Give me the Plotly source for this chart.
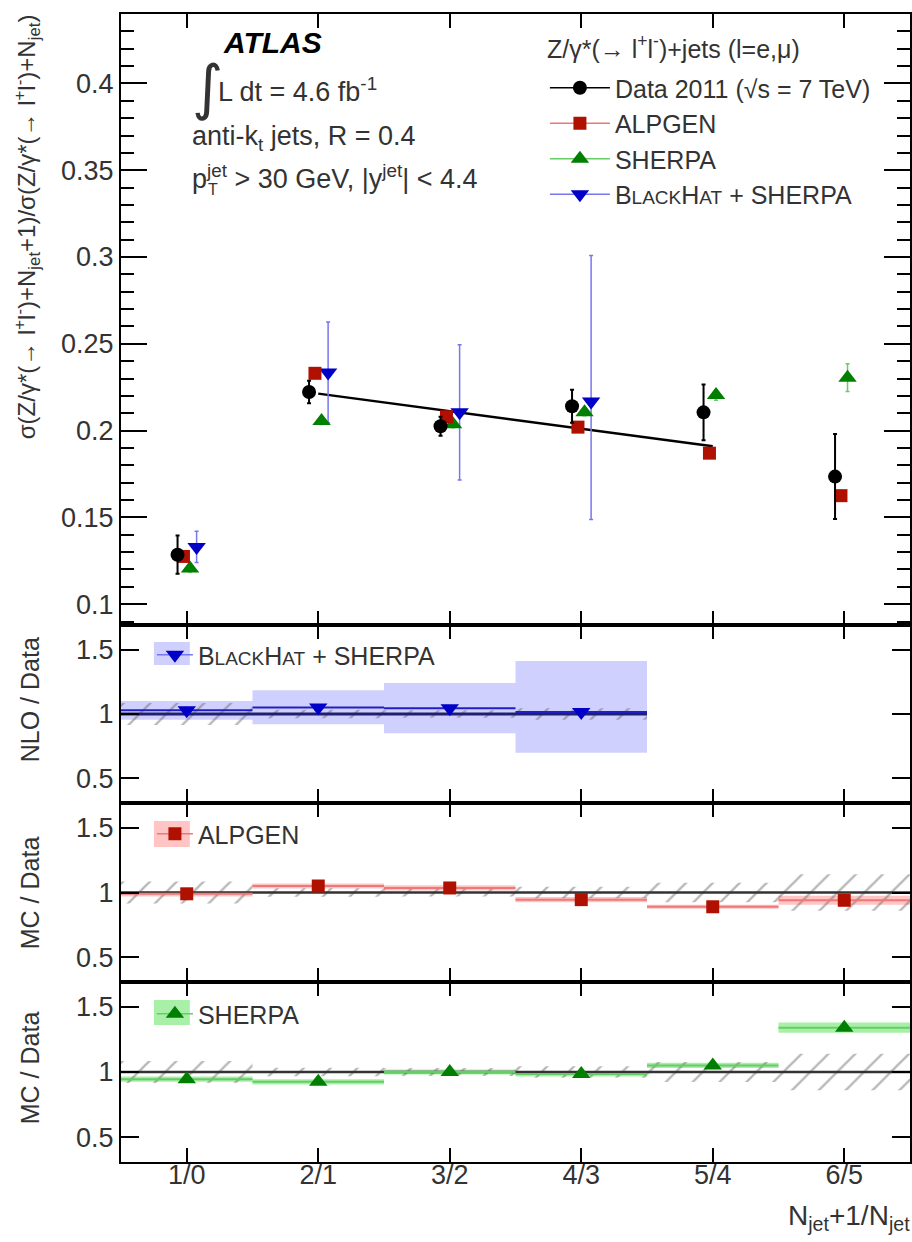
import plotly.graph_objects as go

# ---------------- data ----------------
categories = ["1/0", "2/1", "3/2", "4/3", "5/4", "6/5"]

data_vals = [0.1285, 0.2222, 0.2025, 0.2140, 0.2105, 0.1735]
data_err = [0.011, 0.0065, 0.0055, 0.0095, 0.016, 0.0245]

alpgen_vals = [0.1275, 0.2330, 0.2080, 0.2020, 0.1870, 0.1625]
alpgen_err = [0.002, 0.002, 0.002, 0.002, 0.002, 0.003]

sherpa_vals = [0.1205, 0.2055, 0.2037, 0.2105, 0.2205, 0.2305]
sherpa_err = [0.002, 0.002, 0.002, 0.002, 0.003, 0.008]

bh_vals = [0.1330, 0.2335, 0.2105, 0.2168]
bh_err_up = [0.009, 0.029, 0.039, 0.084]
bh_err_dn = [0.009, 0.029, 0.039, 0.068]

fit_idx = [1, 4]
fit_vals = [0.2213, 0.1910]

# ratio panels
data_rel_err = [0.085, 0.032, 0.030, 0.045, 0.076, 0.140]

bh_ratio = [1.03, 1.05, 1.045, 1.015]
bh_ratio_lo = [0.955, 0.92, 0.85, 0.70]
bh_ratio_hi = [1.10, 1.185, 1.24, 1.41]

alp_ratio = [0.99, 1.05, 1.035, 0.945, 0.89, 0.94]
alp_band = [0.02, 0.02, 0.02, 0.02, 0.015, 0.035]

sherpa_ratio = [0.945, 0.925, 1.0, 0.985, 1.05, 1.34]
sherpa_band = [0.02, 0.02, 0.02, 0.02, 0.02, 0.04]

# ---------------- styles ----------------
FONT = "Liberation Sans, Arial, sans-serif"
FS = 27
C_DATA = "black"
C_ALP = "#b01000"
C_ALP_L = "#ee7777"
C_ALP_F = "rgba(255,150,150,0.55)"
C_SHE = "#007f00"
C_SHE_L = "#66cc66"
C_SHE_F = "rgba(110,230,110,0.6)"
C_BH = "#0000c8"
C_BH_L = "#7777ee"
C_BH_F = "rgba(170,170,255,0.55)"
HATCH = dict(shape="/", fgcolor="#666666", bgcolor="rgba(0,0,0,0)", size=19, solidity=0.12)

off = {"data": -0.07, "alp": -0.025, "she": 0.025, "bh": 0.075}
idx = list(range(len(categories)))

fig = go.Figure()


def shift(n, d):
    return [i + d for i in range(n)]


def rects(lo, hi):
    xs, ys = [], []
    for i, (a, b) in enumerate(zip(lo, hi)):
        xs += [i - 0.5, i + 0.5, i + 0.5, i - 0.5, i - 0.5, None]
        ys += [a, a, b, b, a, None]
    return xs, ys


def steps(vals):
    xs, ys = [], []
    for i, v in enumerate(vals):
        xs += [i - 0.5, i + 0.5, None]
        ys += [v, v, None]
    return xs, ys


# ---------------- main panel ----------------
fig.add_trace(go.Scatter(x=fit_idx, y=fit_vals, mode="lines",
                         line=dict(color="black", width=2.5), showlegend=False,
                         xaxis="x", yaxis="y"))
fig.add_trace(go.Scatter(x=shift(len(bh_vals), off["bh"]), y=bh_vals, mode="markers",
                         marker=dict(symbol="triangle-down", size=16, color=C_BH),
                         error_y=dict(type="data", array=bh_err_up, arrayminus=bh_err_dn,
                                      color=C_BH_L, thickness=1.5, width=2),
                         showlegend=False, xaxis="x", yaxis="y"))
fig.add_trace(go.Scatter(x=shift(6, off["she"]), y=sherpa_vals, mode="markers",
                         marker=dict(symbol="triangle-up", size=16, color=C_SHE),
                         error_y=dict(type="data", array=sherpa_err, color=C_SHE_L,
                                      thickness=1.5, width=2),
                         showlegend=False, xaxis="x", yaxis="y"))
fig.add_trace(go.Scatter(x=shift(6, off["alp"]), y=alpgen_vals, mode="markers",
                         marker=dict(symbol="square", size=13, color=C_ALP),
                         error_y=dict(type="data", array=alpgen_err, color=C_ALP_L,
                                      thickness=1.5, width=2),
                         showlegend=False, xaxis="x", yaxis="y"))
fig.add_trace(go.Scatter(x=shift(6, off["data"]), y=data_vals, mode="markers",
                         marker=dict(symbol="circle", size=14, color=C_DATA),
                         error_y=dict(type="data", array=data_err, color=C_DATA,
                                      thickness=2, width=2),
                         showlegend=False, xaxis="x", yaxis="y"))

# legend-only entries (main)
def smallcaps_bh(sz):
    return ("B<span style='font-size:%dpx'>LACK</span>H"
            "<span style='font-size:%dpx'>AT</span> + SHERPA" % (sz, sz))


for name, sym, col, lcol, sz in [
    ("Data 2011 (√s = 7 TeV)", "circle", C_DATA, C_DATA, 14),
    ("ALPGEN", "square", C_ALP, C_ALP_L, 13),
    ("SHERPA", "triangle-up", C_SHE, C_SHE_L, 16),
    (smallcaps_bh(19), "triangle-down", C_BH, C_BH_L, 16),
]:
    fig.add_trace(go.Scatter(x=[None], y=[None], mode="lines+markers", name=name,
                             marker=dict(symbol=sym, size=sz, color=col),
                             line=dict(color=lcol, width=1.5),
                             legend="legend", xaxis="x", yaxis="y"))

# ---------------- ratio panel 1 (NLO) ----------------
nbh = len(bh_ratio)
bx, by = rects(bh_ratio_lo, bh_ratio_hi)
fig.add_trace(go.Scatter(x=bx, y=by, fill="toself", mode="lines", line=dict(width=0),
                         fillcolor=C_BH_F, showlegend=False, xaxis="x2", yaxis="y2"))
hx, hy = rects([1 - e for e in data_rel_err[:nbh]], [1 + e for e in data_rel_err[:nbh]])
fig.add_trace(go.Scatter(x=hx, y=hy, fill="toself", mode="lines", line=dict(width=0),
                         fillcolor="rgba(0,0,0,0)", fillpattern=HATCH,
                         showlegend=False, xaxis="x2", yaxis="y2"))
fig.add_trace(go.Scatter(x=[-0.5, nbh - 0.5], y=[1, 1], mode="lines",
                         line=dict(color="#202070", width=3), showlegend=False,
                         xaxis="x2", yaxis="y2"))
sx, sy = steps(bh_ratio)
fig.add_trace(go.Scatter(x=sx, y=sy, mode="lines", line=dict(color="#2020c0", width=2),
                         showlegend=False, xaxis="x2", yaxis="y2"))
fig.add_trace(go.Scatter(x=idx[:nbh], y=bh_ratio, mode="markers",
                         marker=dict(symbol="triangle-down", size=16, color=C_BH),
                         showlegend=False, xaxis="x2", yaxis="y2"))
fig.add_trace(go.Scatter(x=[None], y=[None], mode="lines+markers", name=smallcaps_bh(19),
                         marker=dict(symbol="triangle-down", size=16, color=C_BH),
                         line=dict(color=C_BH_L, width=1.5), legend="legend2",
                         xaxis="x2", yaxis="y2"))


def mc_panel(xa, ya, vals, band, col, lcol, fcol, sym, size, name, leg):
    lo = [v - b for v, b in zip(vals, band)]
    hi = [v + b for v, b in zip(vals, band)]
    bx, by = rects(lo, hi)
    fig.add_trace(go.Scatter(x=bx, y=by, fill="toself", mode="lines", line=dict(width=0),
                             fillcolor=fcol, showlegend=False, xaxis=xa, yaxis=ya))
    hx, hy = rects([1 - e for e in data_rel_err], [1 + e for e in data_rel_err])
    fig.add_trace(go.Scatter(x=hx, y=hy, fill="toself", mode="lines", line=dict(width=0),
                             fillcolor="rgba(0,0,0,0)", fillpattern=HATCH,
                             showlegend=False, xaxis=xa, yaxis=ya))
    fig.add_trace(go.Scatter(x=[-0.5, len(vals) - 0.5], y=[1, 1], mode="lines",
                             line=dict(color="#333333", width=2.5), showlegend=False,
                             xaxis=xa, yaxis=ya))
    sx, sy = steps(vals)
    fig.add_trace(go.Scatter(x=sx, y=sy, mode="lines", line=dict(color=lcol, width=2),
                             showlegend=False, xaxis=xa, yaxis=ya))
    fig.add_trace(go.Scatter(x=idx, y=vals, mode="markers",
                             marker=dict(symbol=sym, size=size, color=col),
                             showlegend=False, xaxis=xa, yaxis=ya))
    fig.add_trace(go.Scatter(x=[None], y=[None], mode="lines+markers", name=name,
                             marker=dict(symbol=sym, size=size, color=col),
                             line=dict(color=lcol, width=1.5), legend=leg,
                             xaxis=xa, yaxis=ya))


mc_panel("x3", "y3", alp_ratio, alp_band, C_ALP, C_ALP_L, C_ALP_F, "square", 13, "ALPGEN", "legend3")
mc_panel("x4", "y4", sherpa_ratio, sherpa_band, C_SHE, C_SHE_L, C_SHE_F, "triangle-up", 16, "SHERPA", "legend4")

# ---------------- layout ----------------
W, H = 912, 1242
ML, MR, MT, MB = 121, 0, 14, 80
PH = H - MT - MB
PW = W - ML - MR


def py(p):  # pixel y -> paper
    return (H - MB - p) / PH


def px(p):  # pixel x -> paper
    return (p - ML) / PW


dom_main = [py(625), 1]
dom_p1 = [py(803), py(625)]
dom_p2 = [py(982), py(803)]
dom_p3 = [0, py(982)]

TICKFONT = dict(size=FS, family=FONT, color="#333")
xcommon = dict(range=[-0.5, 5.5], tickvals=idx, ticktext=categories, ticks="inside",
               ticklen=14, tickwidth=1.5, tickcolor="black", mirror="allticks",
               showline=True, linewidth=2, linecolor="black", showgrid=False,
               zeroline=False, tickfont=TICKFONT)
ratio_y = dict(range=[0.31, 1.69], tickvals=[0.5, 1, 1.5], ticktext=["0.5", "1", "1.5"],
               ticks="inside", ticklen=18, tickwidth=1.5, tickcolor="black",
               mirror="allticks", showline=True, linewidth=2, linecolor="black",
               showgrid=False, zeroline=False, tickfont=TICKFONT)

lay = dict(
    width=W, height=H, margin=dict(l=ML, r=MR, t=MT, b=MB),
    paper_bgcolor="white", plot_bgcolor="white",
    font=dict(family=FONT, size=FS, color="#333"),
    xaxis=dict(xcommon, anchor="y", showticklabels=False),
    yaxis=dict(domain=dom_main, range=[0.088, 0.44], anchor="x",
               tickvals=[0.1, 0.15, 0.2, 0.25, 0.3, 0.35, 0.4],
               ticktext=["0.1", "0.15", "0.2", "0.25", "0.3", "0.35", "0.4"],
               ticks="inside", ticklen=26, tickwidth=1.5, tickcolor="black",
               minor=dict(ticks="inside", ticklen=13, dtick=0.01, tick0=0.1,
                          tickwidth=1.5, tickcolor="black", showgrid=False),
               mirror="allticks", showline=True, linewidth=2, linecolor="black",
               showgrid=False, zeroline=False, tickfont=TICKFONT),
    xaxis2=dict(xcommon, anchor="y2", showticklabels=False),
    yaxis2=dict(ratio_y, domain=dom_p1, anchor="x2"),
    xaxis3=dict(xcommon, anchor="y3", showticklabels=False),
    yaxis3=dict(ratio_y, domain=dom_p2, anchor="x3"),
    xaxis4=dict(xcommon, anchor="y4", showticklabels=True, ticklabelstandoff=-12),
    yaxis4=dict(ratio_y, domain=dom_p3, anchor="x4"),
    legend=dict(x=px(546), y=py(65), xanchor="left", yanchor="top",
                bgcolor="rgba(0,0,0,0)", borderwidth=0, itemwidth=60,
                font=dict(size=25, family=FONT, color="#333")),
)
for leg, top in [("legend2", 632), ("legend3", 811), ("legend4", 991)]:
    lay[leg] = dict(x=px(152), y=py(top), xanchor="left", yanchor="top",
                    bgcolor="rgba(0,0,0,0)", borderwidth=0, itemwidth=36,
                    font=dict(size=25, family=FONT, color="#333"))
fig.update_layout(**lay)

# light boxes behind ratio legend symbols
for (y0, y1, col) in [(642, 665, C_BH_F), (821, 847, C_ALP_F), (1000, 1025, C_SHE_F)]:
    fig.add_shape(type="rect", xref="paper", yref="paper", x0=px(154), x1=px(190),
                  y0=py(y1), y1=py(y0), fillcolor=col, line=dict(width=0), layer="below")

ann = [
    dict(text="<b><i>ATLAS</i></b>", x=px(221), y=py(43), xanchor="left", yanchor="middle",
         font=dict(size=30, color="black")),
    dict(text="∫", x=px(190), y=py(87), xanchor="left", yanchor="middle",
         font=dict(size=60, color="#333", family="DejaVu Sans")),
    dict(text="L dt = 4.6 fb<sup>-1</sup>", x=px(216), y=py(90), xanchor="left",
         yanchor="middle"),
    dict(text="Z/γ*(→ l<sup>+</sup>l<sup>-</sup>)+jets (l=e,μ)", x=px(546), y=py(47),
         xanchor="left", yanchor="middle", font=dict(size=25, color="#333")),
    dict(text="anti-k<sub>t</sub> jets, R = 0.4", x=px(190), y=py(138), xanchor="left",
         yanchor="middle"),
    dict(text="p<sup>jet</sup> > 30 GeV, |y<sup>jet</sup>| < 4.4", x=px(190),
         y=py(177), xanchor="left", yanchor="middle"),
    dict(text="T", x=px(206), y=py(189), xanchor="left", yanchor="middle",
         font=dict(size=16, color="#333")),
    dict(text="σ(Z/γ*(→ l<sup>+</sup>l<sup>-</sup>)+N<sub>jet</sub>+1)/σ(Z/γ*(→ l<sup>+</sup>l<sup>-</sup>)+N<sub>jet</sub>)",
         x=px(27), y=py(227), textangle=-90, xanchor="center", yanchor="middle",
         font=dict(size=24, color="#333")),
    dict(text="NLO / Data", x=px(30), y=py(700), textangle=-90, xanchor="center",
         yanchor="middle", font=dict(size=25, color="#333")),
    dict(text="MC / Data", x=px(30), y=py(893), textangle=-90, xanchor="center",
         yanchor="middle", font=dict(size=25, color="#333")),
    dict(text="MC / Data", x=px(30), y=py(1068), textangle=-90, xanchor="center",
         yanchor="middle", font=dict(size=25, color="#333")),
    dict(text="N<sub>jet</sub>+1/N<sub>jet</sub>", x=px(788), y=py(1217), xanchor="left",
         yanchor="middle", font=dict(size=28, color="#333")),
]
for a in ann:
    a.setdefault("font", dict(size=FS, color="#333"))
    a["font"].setdefault("family", FONT)
    fig.add_annotation(xref="paper", yref="paper", showarrow=False, **a)

fig.write_html("out.html")
